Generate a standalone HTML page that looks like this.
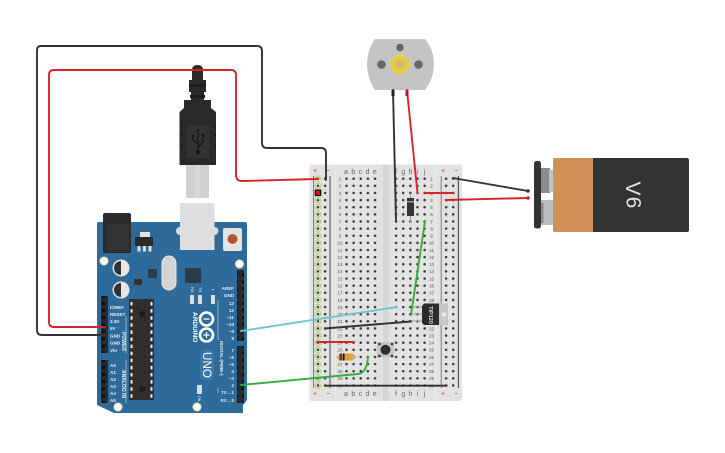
<!DOCTYPE html>
<html><head><meta charset="utf-8"><style>
html,body{margin:0;padding:0;background:#fff;width:725px;height:453px;overflow:hidden}
svg{display:block}
text{font-family:"Liberation Sans",sans-serif}
.w{fill:none;stroke-width:1.9;stroke-linecap:round;stroke-linejoin:round}
.n text{font-size:4.5px;fill:#555;text-anchor:middle}
.l text{font-size:7px;fill:#666;text-anchor:middle}
.a text{font-size:4.6px;fill:#e8eef3;font-weight:bold}
</style></head><body>
<svg width="725" height="453" viewBox="0 0 725 453" xmlns="http://www.w3.org/2000/svg">
<defs>
<pattern id="h" x="343" y="175.2" width="7.13" height="7.13" patternUnits="userSpaceOnUse"><circle cx="3.5" cy="3.5" r="1.25" fill="#333"/></pattern>
<pattern id="gr" x="314.5" y="175.2" width="7.13" height="7.13" patternUnits="userSpaceOnUse"><circle cx="3.5" cy="3.5" r="2.9" fill="#dfe8cf" stroke="#a9cf72" stroke-width=".9"/><circle cx="3.5" cy="3.5" r="1.25" fill="#333"/></pattern>
<pattern id="h2" x="321.6" y="175.2" width="7.13" height="7.13" patternUnits="userSpaceOnUse"><circle cx="3.5" cy="3.5" r="1.25" fill="#333"/></pattern>
<pattern id="h3" x="392.6" y="175.2" width="7.13" height="7.13" patternUnits="userSpaceOnUse"><circle cx="3.5" cy="3.5" r="1.25" fill="#333"/></pattern>
<pattern id="h4" x="442.6" y="175.2" width="7.13" height="7.13" patternUnits="userSpaceOnUse"><circle cx="3.5" cy="3.5" r="1.25" fill="#333"/></pattern>
<pattern id="pin" x="100" y="0" width="7" height="7.13" patternUnits="userSpaceOnUse"><rect width="7" height="7.13" fill="#2b2b2b"/><rect x="1.8" y="2" width="3.4" height="3.4" fill="#111"/></pattern>
</defs>

<!-- Breadboard -->
<rect x="309.5" y="164.5" width="152.5" height="236.5" rx="2" fill="#e2e2e2"/>
<rect x="335" y="165" width="1" height="236" fill="#ececec"/>
<rect x="435" y="165" width="1" height="236" fill="#ececec"/>
<rect x="383" y="165" width="5.5" height="236" fill="#d5d5d5"/>
<line x1="313.5" y1="176" x2="313.5" y2="388" stroke="#b5645f" stroke-width="1"/>
<line x1="330" y1="176" x2="330" y2="388" stroke="#666" stroke-width="1.2"/>
<line x1="441.2" y1="176" x2="441.2" y2="388" stroke="#b5645f" stroke-width="1"/>
<line x1="458.4" y1="176" x2="458.4" y2="388" stroke="#555" stroke-width="1.2"/>
<rect x="314.5" y="175.2" width="7.13" height="214" fill="url(#gr)"/>
<rect x="321.6" y="175.2" width="7.13" height="214" fill="url(#h2)"/>
<rect x="343" y="175.2" width="35.65" height="214" fill="url(#h)"/>
<rect x="392.6" y="175.2" width="35.65" height="214" fill="url(#h3)"/>
<rect x="442.6" y="175.2" width="14.26" height="214" fill="url(#h4)"/>
<rect x="314.7" y="189.5" width="6.6" height="6.6" fill="#111"/><rect x="316" y="190.8" width="4" height="4" fill="#f00"/>

<g class="l">
<text x="315" y="173" style="fill:#c0392b">+</text><text x="328" y="173">−</text><text x="443" y="173" style="fill:#c0392b">+</text><text x="456" y="173">−</text>
<text x="346" y="174">a</text><text x="353.3" y="174">b</text><text x="360.4" y="174">c</text><text x="367.5" y="174">d</text><text x="374.7" y="174">e</text>
<text x="396" y="174">f</text><text x="403.3" y="174">g</text><text x="410.4" y="174">h</text><text x="417.5" y="174">i</text><text x="424.6" y="174">j</text>
<text x="315" y="396" style="fill:#c0392b">+</text><text x="328" y="396">−</text><text x="443" y="396" style="fill:#c0392b">+</text><text x="456" y="396">−</text>
<text x="346" y="396">a</text><text x="353.3" y="396">b</text><text x="360.4" y="396">c</text><text x="367.5" y="396">d</text><text x="374.7" y="396">e</text>
<text x="396" y="396">f</text><text x="403.3" y="396">g</text><text x="410.4" y="396">h</text><text x="417.5" y="396">i</text><text x="424.6" y="396">j</text>
</g>
<g class="n">
<text x="340" y="180.5">1</text><text x="340" y="187.6">2</text><text x="340" y="194.8">3</text><text x="340" y="201.9">4</text><text x="340" y="209">5</text><text x="340" y="216.2">6</text><text x="340" y="223.3">7</text><text x="340" y="230.4">8</text><text x="340" y="237.6">9</text><text x="340" y="244.7">10</text><text x="340" y="251.8">11</text><text x="340" y="259">12</text><text x="340" y="266.1">13</text><text x="340" y="273.2">14</text><text x="340" y="280.4">15</text><text x="340" y="287.5">16</text><text x="340" y="294.6">17</text><text x="340" y="301.8">18</text><text x="340" y="308.9">19</text><text x="340" y="316">20</text><text x="340" y="323.2">21</text><text x="340" y="330.3">22</text><text x="340" y="337.4">23</text><text x="340" y="344.6">24</text><text x="340" y="351.7">25</text><text x="340" y="358.8">26</text><text x="340" y="366">27</text><text x="340" y="373.1">28</text><text x="340" y="380.2">29</text><text x="340" y="387.4">30</text>
<text x="431.5" y="180.5">1</text><text x="431.5" y="187.6">2</text><text x="431.5" y="194.8">3</text><text x="431.5" y="201.9">4</text><text x="431.5" y="209">5</text><text x="431.5" y="216.2">6</text><text x="431.5" y="223.3">7</text><text x="431.5" y="230.4">8</text><text x="431.5" y="237.6">9</text><text x="431.5" y="244.7">10</text><text x="431.5" y="251.8">11</text><text x="431.5" y="259">12</text><text x="431.5" y="266.1">13</text><text x="431.5" y="273.2">14</text><text x="431.5" y="280.4">15</text><text x="431.5" y="287.5">16</text><text x="431.5" y="294.6">17</text><text x="431.5" y="301.8">18</text><text x="431.5" y="308.9">19</text><text x="431.5" y="316">20</text><text x="431.5" y="323.2">21</text><text x="431.5" y="330.3">22</text><text x="431.5" y="337.4">23</text><text x="431.5" y="344.6">24</text><text x="431.5" y="351.7">25</text><text x="431.5" y="358.8">26</text><text x="431.5" y="366">27</text><text x="431.5" y="373.1">28</text><text x="431.5" y="380.2">29</text><text x="431.5" y="387.4">30</text>
</g>

<!-- Arduino -->
<path d="M99,222H245Q247,222 247,224V400L243,405V413H114L97,405V224Q97,222 99,222Z" fill="#2f6b9a"/>
<!-- USB socket -->
<ellipse cx="180" cy="231" rx="4" ry="4" fill="#d9d9d9"/><ellipse cx="214.500" cy="231" rx="4" ry="4" fill="#d9d9d9"/>
<rect x="180" y="203" width="34.500" height="47" fill="#dedede"/>
<!-- power jack -->
<rect x="103" y="213" width="28" height="40" rx="2" fill="#2c2c2c"/>
<rect x="107" y="224" width="22" height="28" rx="2" fill="#333"/>
<!-- reset -->
<rect x="223" y="228" width="19" height="23" rx="2" fill="#e4e4e4"/><circle cx="232.500" cy="239" r="5" fill="#b55233"/>
<!-- regulator -->
<rect x="140" y="232" width="10" height="5" fill="#e4e4e4"/><rect x="135" y="237" width="18" height="9" fill="#2b2b2b"/>
<rect x="137.500" y="246" width="3" height="5.500" fill="#ddd"/><rect x="143" y="246" width="3" height="5.500" fill="#ddd"/><rect x="148.500" y="246" width="3" height="5.500" fill="#ddd"/>
<!-- caps -->
<circle cx="121" cy="268" r="8.500" fill="#e6e6e6"/><path d="M121,261A7,7 0 0 0 121,275Z" fill="#333"/>
<circle cx="121" cy="290" r="8.500" fill="#e6e6e6"/><path d="M121,283A7,7 0 0 0 121,297Z" fill="#333"/>
<rect x="148" y="269" width="9" height="9" fill="#2b3b48"/>
<rect x="134" y="279" width="8" height="6" fill="#333"/>
<rect x="162" y="256" width="14" height="34" rx="7" fill="#d3d3d3" stroke="#e5e5e5"/>
<rect x="185" y="268" width="16" height="15" fill="#2b3b48"/>
<rect x="190" y="295" width="4" height="9" fill="#ddd"/><rect x="198" y="295" width="4" height="9" fill="#ddd"/><rect x="211" y="295" width="4" height="9" fill="#ddd"/>
<g transform="translate(191,287) rotate(90)"><text fill="#fff" style="font-size:4px">RX</text></g>
<g transform="translate(199,287) rotate(90)"><text fill="#fff" style="font-size:4px">TX</text></g>
<g transform="translate(212,289) rotate(90)"><text fill="#fff" style="font-size:4px">L</text></g>
<!-- headers -->
<rect x="101" y="296" width="7" height="57" fill="url(#pin)"/>
<rect x="101" y="360" width="7" height="43" fill="url(#pin)"/>
<rect x="237" y="270" width="7" height="71" fill="url(#pin)"/>
<rect x="237" y="346" width="7" height="57" fill="url(#pin)"/>
<g class="a">
<text x="110" y="309">IOREF</text><text x="110" y="316">RESET</text><text x="110" y="323">3.3V</text><text x="110" y="330">5V</text><text x="110" y="337.500">GND</text><text x="110" y="344.500">GND</text><text x="110" y="352">Vin</text>
<text x="110" y="367">A0</text><text x="110" y="374">A1</text><text x="110" y="381">A2</text><text x="110" y="388">A3</text><text x="110" y="395">A4</text><text x="110" y="402">A5</text>
<g text-anchor="end">
<text x="234" y="290">AREF</text><text x="234" y="297">GND</text><text x="234" y="305">13</text><text x="234" y="312">12</text><text x="234" y="319">~11</text><text x="234" y="326">~10</text><text x="234" y="333">~9</text><text x="234" y="340">8</text><text x="234" y="352">7</text><text x="234" y="359">~6</text><text x="234" y="366">~5</text><text x="234" y="373">4</text><text x="234" y="380">~3</text><text x="234" y="387">2</text><text x="234" y="394">TX→1</text><text x="234" y="402">RX←0</text>
</g>
</g>
<line x1="126" y1="316" x2="126" y2="353" stroke="#cfe0ec" stroke-width=".6"/>
<line x1="126" y1="360" x2="126" y2="403" stroke="#cfe0ec" stroke-width=".6"/>
<line x1="218" y1="300" x2="218" y2="340" stroke="#cfe0ec" stroke-width=".6"/>
<line x1="218" y1="388" x2="218" y2="393" stroke="#cfe0ec" stroke-width=".6"/>
<g transform="translate(122,332) rotate(90)"><text style="font-size:5px;font-weight:bold" fill="#e8eef3">POWER</text></g>
<g transform="translate(122,370) rotate(90)"><text style="font-size:5px;font-weight:bold" fill="#e8eef3">ANALOG IN</text></g>
<g transform="translate(220,341) rotate(90)"><text style="font-size:4.400px;font-weight:bold" fill="#e8eef3">DIGITAL (PWM~)</text></g>
<!-- IC -->
<rect x="129" y="299" width="25" height="101" fill="#2f2f2f"/>
<line x1="131.500" y1="302" x2="131.500" y2="398" stroke="#eee" stroke-width="2" stroke-dasharray="3.500 3.600"/>
<line x1="151.500" y1="302" x2="151.500" y2="398" stroke="#eee" stroke-width="2" stroke-dasharray="3.500 3.600"/>
<circle cx="142" cy="314" r="3" fill="#1c1c1c"/><circle cx="142" cy="389" r="3" fill="#1c1c1c"/>
<!-- logo -->
<circle cx="206.500" cy="319" r="6.500" fill="none" stroke="#fff" stroke-width="2.600"/>
<circle cx="206.500" cy="335" r="6.500" fill="none" stroke="#fff" stroke-width="2.600"/>
<rect x="203.500" y="318.400" width="6" height="1.300" fill="#fff"/>
<rect x="203.500" y="334.400" width="6" height="1.300" fill="#fff"/><rect x="205.800" y="332" width="1.300" height="6" fill="#fff"/>
<g transform="translate(193,312) rotate(90)"><text style="font-size:6.500px;font-weight:bold" fill="#fff">ARDUINO</text></g>
<rect x="200" y="349" width="14" height="32" rx="7" fill="#3b76a4"/>
<g transform="translate(203,352) rotate(90)"><text style="font-size:11.700px" fill="#fff">UNO</text></g>
<rect x="197" y="385" width="5" height="9" fill="#ddd"/>
<g transform="translate(198,396) rotate(90)"><text style="font-size:3.500px" fill="#fff">ON</text></g>
<!-- mount holes -->
<circle cx="104" cy="261" r="4" fill="#fff" stroke="#e8e2a8"/><circle cx="239.500" cy="264" r="4" fill="#fff" stroke="#e8e2a8"/><circle cx="118" cy="407" r="4" fill="#fff" stroke="#e8e2a8"/><circle cx="197" cy="407" r="4" fill="#fff" stroke="#e8e2a8"/>

<!-- USB plug -->
<rect x="186" y="165" width="23" height="33" fill="#d0d0d0"/>
<line x1="197.500" y1="165" x2="197.500" y2="198" stroke="#d8d8d8" stroke-width="6"/>
<path d="M192,70Q192,65 197.500,65Q203,65 203,70V80H206V92H204V100H211V108L216,112V165H179.500V112L184,108V100H191V92H189V80H192Z" fill="#2a2a2a"/>
<rect x="189" y="84" width="17" height="3" fill="#1d1d1d"/><rect x="190" y="95" width="15" height="3" fill="#1d1d1d"/>
<rect x="187" y="125" width="22" height="33" fill="#333"/>
<path d="M198,129V152M198,144L193,140V137M198,147L203,142V136" stroke="#151515" stroke-width="1.200" fill="none"/><circle cx="198" cy="152" r="2.200" fill="#151515"/><circle cx="193" cy="136" r="1.200" fill="#151515"/><rect x="202" y="134" width="2.500" height="2.500" fill="#151515"/>
<rect x="180" y="125" width="2" height="1" fill="#111"/><rect x="180" y="135" width="2" height="1" fill="#111"/><rect x="180" y="145" width="2" height="1" fill="#111"/>
<rect x="214" y="125" width="2" height="1" fill="#111"/><rect x="214" y="135" width="2" height="1" fill="#111"/><rect x="214" y="145" width="2" height="1" fill="#111"/>

<!-- Motor -->
<path d="M375,39H425Q434,50 434,64Q434,78 425,90H375Q367,78 367,64Q367,50 375,39Z" fill="#c4c4c4"/>
<circle cx="400" cy="47.500" r="3.700" fill="#666"/><circle cx="381.500" cy="64.500" r="4.300" fill="#666"/><circle cx="418.500" cy="64.500" r="4.300" fill="#666"/>
<circle cx="400" cy="64.500" r="6.500" fill="#d0bb6c" stroke="#efcd2f" stroke-width="3"/>
<circle cx="400" cy="64.500" r="9.200" fill="none" stroke="#efcd2f" stroke-width="2.500" stroke-dasharray="3.600 3.630"/>

<!-- Battery -->
<rect x="541" y="168" width="9" height="25" fill="#8c8c8c"/><rect x="549" y="170" width="5" height="22" fill="#c2c2c2"/>
<rect x="541" y="200" width="13" height="25" fill="#bdbdbd"/><rect x="541" y="203" width="2.500" height="20" fill="#8c8c8c"/>
<rect x="534" y="161" width="7" height="67.500" rx="2.500" fill="#333"/>
<rect x="553" y="158" width="136" height="74" rx="2" fill="#333"/>
<path d="M555,158H593V232H555Q553,232 553,230V160Q553,158 555,158Z" fill="#d09157"/>
<text transform="translate(633.500,188.500) rotate(90)" text-anchor="middle" y="7.500" style="font-size:21px" fill="#e5e5e5">V</text>
<text transform="translate(633.500,202.500) rotate(-90)" text-anchor="middle" y="7.500" style="font-size:21px" fill="#e5e5e5">9</text>

<!-- Resistor / diode / transistor / button -->
<line x1="336" y1="357" x2="357" y2="357" stroke="#aaa" stroke-width="1"/>
<rect x="338" y="353.500" width="17" height="7" rx="3" fill="#d0ab6b"/>
<rect x="339.500" y="353.500" width="2.500" height="7" fill="#6b3a16"/><rect x="342.800" y="353.500" width="1.800" height="7" fill="#111"/><rect x="346.500" y="353.500" width="2.500" height="7" fill="#f28c1e"/><rect x="350" y="353.500" width="1.500" height="7" fill="#e0a040"/>
<line x1="410.500" y1="193" x2="410.500" y2="222" stroke="#999" stroke-width="1"/>
<rect x="407" y="198" width="7" height="18" fill="#333"/><rect x="407" y="201" width="7" height="1.500" fill="#999"/>
<line x1="412" y1="307" x2="423" y2="307" stroke="#999"/><line x1="412" y1="314" x2="423" y2="314" stroke="#999"/><line x1="412" y1="321" x2="423" y2="321" stroke="#999"/>
<rect x="430" y="303.500" width="18" height="21.500" fill="#c7c7c7"/><circle cx="444" cy="314.500" r="2" fill="#eee"/>
<path d="M424,303.500H439V325H424L422,323V306Z" fill="#2b2b2b"/>
<text transform="translate(431,315) rotate(90)" text-anchor="middle" y="2" style="font-size:5.500px;font-weight:bold" fill="#ddd">TIP120</text>
<rect x="377" y="342" width="17" height="15.500" fill="#c6c6c6"/><circle cx="385.500" cy="349.800" r="5" fill="#2d2d2d"/>
<circle cx="379.500" cy="344" r="1.300" fill="#333"/><circle cx="392" cy="344" r="1.300" fill="#333"/><circle cx="379.500" cy="356" r="1.300" fill="#333"/><circle cx="392" cy="356" r="1.300" fill="#333"/>

<!-- Wires -->
<path class="w" stroke="#333" d="M105,335H42Q37,335 37,330V50Q37,46 41,46H257Q262,46 262,51V143Q262,148 267,148H321Q326,148 326,153V180"/>
<path class="w" stroke="#d9232a" d="M105,327H54Q49,327 49,322V75Q49,70 54,70H231Q236,70 236,75V175Q236,181 242,181L318,179"/>
<path class="w" stroke="#333" d="M393,90L396,221"/>
<path class="w" stroke="#d9232a" d="M407,90L417.500,193"/>
<rect x="391.500" y="90" width="3" height="6" fill="#222"/><rect x="405.500" y="90" width="3" height="6" fill="#b01c22"/>
<path class="w" stroke="#d9232a" d="M425,193H453"/>
<path class="w" stroke="#d9232a" d="M446,200L528,198"/>
<path class="w" stroke="#333" d="M453,178L528,191"/>
<circle cx="528" cy="191" r="1.700" fill="#333"/><circle cx="528" cy="198" r="1.700" fill="#c22"/>
<path class="w" stroke="#6fc3d0" d="M241,331L397,307"/>
<path class="w" stroke="#36ac3c" d="M241,385L358,374Q367,373 368,357"/>
<path class="w" stroke="#36ac3c" d="M411,315L425,221"/>
<path class="w" stroke="#333" d="M325,328.500L411,321.500"/>
<path class="w" stroke="#333" d="M325,385.700H446.500"/>
<path class="w" stroke="#d9232a" d="M317,342H354"/>
</svg>
</body></html>
